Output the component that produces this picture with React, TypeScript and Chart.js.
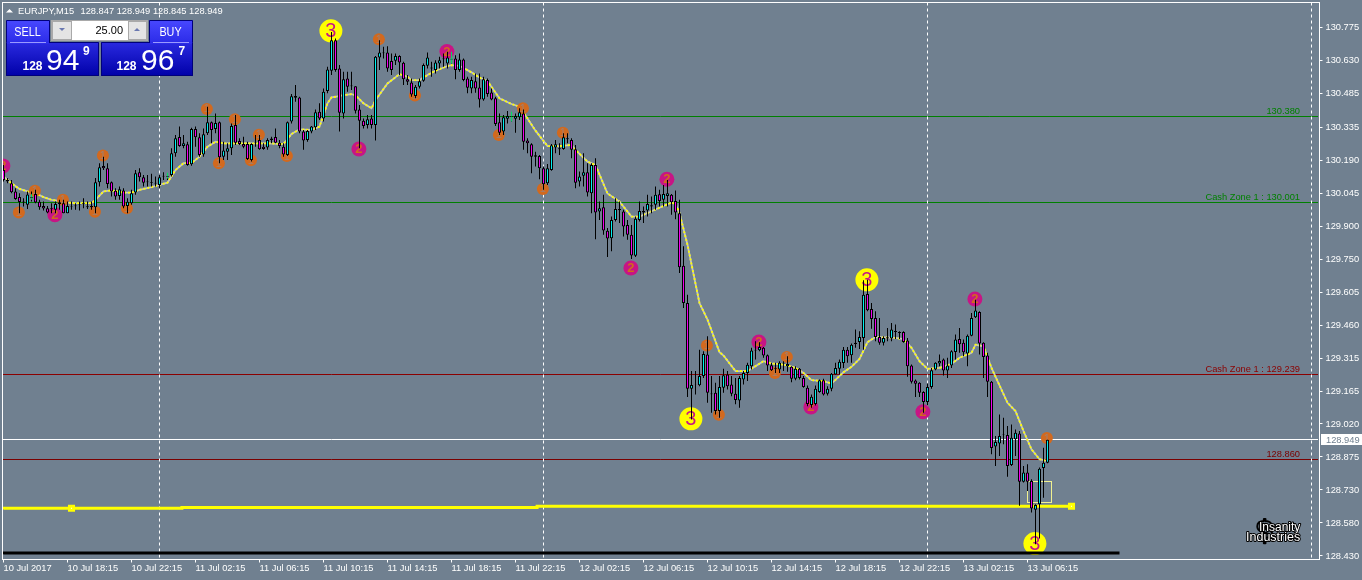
import React, { useEffect, useRef } from "react";
import { Chart, registerables } from "chart.js";

Chart.register(...registerables);

const opens = [
130.143,130.099,130.084,130.048,130.023,130.003,129.989,130.018,130.037,130.002,
129.984,129.974,129.970,129.967,129.993,129.996,129.952,129.981,129.983,129.990,
129.993,129.983,129.984,129.978,130.089,130.161,130.151,130.089,130.051,130.028,
130.052,129.984,129.996,130.043,130.133,130.111,130.092,130.090,130.087,130.077,
130.114,130.112,130.121,130.217,130.289,130.249,130.257,130.168,130.324,130.288,
130.212,130.305,130.354,130.324,130.354,130.202,130.224,130.239,130.342,130.271,
130.258,130.258,130.187,130.261,130.276,130.246,130.242,130.276,130.289,130.264,
130.246,130.209,130.357,130.470,130.464,130.313,130.276,130.313,130.332,130.401,
130.371,130.492,130.582,130.717,130.592,130.393,130.548,130.514,130.514,130.411,
130.361,130.342,130.371,130.342,130.641,130.663,130.663,130.625,130.626,130.647,
130.617,130.544,130.530,130.470,130.511,130.538,130.604,130.597,130.585,130.614,
130.636,130.614,130.632,130.636,130.585,130.632,130.548,130.504,130.536,130.508,
130.455,130.541,130.486,130.460,130.354,130.313,130.370,130.379,130.370,130.376,
130.393,130.273,130.257,130.208,130.205,130.151,130.084,130.143,130.243,130.239,
130.236,130.283,130.276,130.235,130.092,130.117,130.133,130.040,130.165,129.959,
129.978,129.874,129.841,129.922,129.970,129.959,129.900,129.856,129.763,129.922,
129.955,129.964,129.981,129.989,130.036,130.011,130.028,130.033,130.006,129.952,
129.719,129.554,129.175,129.196,129.191,129.231,129.326,129.154,129.157,129.076,
129.179,129.238,129.194,129.153,129.123,129.216,129.245,129.275,129.348,129.345,
129.356,129.323,129.279,129.267,129.260,129.290,129.275,129.272,129.219,129.263,
129.223,129.179,129.103,129.108,129.161,129.213,129.153,129.175,129.238,129.264,
129.289,129.348,129.323,129.378,129.382,129.400,129.594,129.528,129.488,129.404,
129.378,129.397,129.397,129.431,129.426,129.426,129.388,129.278,129.212,129.201,
129.161,129.116,129.183,129.260,129.287,129.304,129.256,129.278,129.338,129.395,
129.378,129.331,129.410,129.491,129.515,129.378,129.322,129.206,128.919,128.933,
128.973,128.970,128.838,128.951,128.977,128.763,128.804,128.767,128.639,128.664,
128.824,128.847];

const closes = [
130.099,130.092,130.045,130.015,130.001,129.999,130.034,130.022,129.999,129.978,
129.973,129.955,129.974,129.993,130.000,129.952,129.984,129.984,129.986,129.993,
129.996,129.978,129.978,130.089,130.155,130.151,130.081,130.048,130.026,130.058,
129.981,130.002,130.040,130.129,130.111,130.087,130.089,130.087,130.083,130.111,
130.118,130.115,130.217,130.283,130.249,130.261,130.165,130.324,130.288,130.209,
130.301,130.354,130.320,130.351,130.199,130.229,130.239,130.338,130.264,130.258,
130.246,130.192,130.258,130.265,130.235,130.236,130.276,130.282,130.264,130.249,
130.212,130.354,130.469,130.463,130.313,130.273,130.316,130.335,130.398,130.371,
130.489,130.588,130.717,130.585,130.396,130.544,130.511,130.517,130.405,130.361,
130.338,130.367,130.342,130.644,130.663,130.660,130.592,130.585,130.647,130.619,
130.544,130.533,130.477,130.511,130.536,130.607,130.641,130.592,130.619,130.629,
130.633,130.641,130.635,130.585,130.632,130.541,130.507,130.541,130.504,130.455,
130.544,130.479,130.455,130.346,130.308,130.376,130.382,130.382,130.382,130.398,
130.268,130.261,130.202,130.202,130.151,130.080,130.151,130.252,130.257,130.235,
130.288,130.279,130.232,130.087,130.114,130.133,130.043,130.165,129.955,129.974,
129.875,129.840,129.922,129.970,129.965,129.893,129.856,129.765,129.927,129.962,
129.962,129.993,129.987,130.033,130.006,130.037,130.040,130.000,129.955,129.713,
129.554,129.175,129.192,129.195,129.231,129.329,129.157,129.151,129.076,129.183,
129.235,129.186,129.153,129.125,129.223,129.245,129.281,129.344,129.344,129.360,
129.322,129.278,129.257,129.263,129.290,129.287,129.285,129.219,129.263,129.223,
129.183,129.108,129.140,129.175,129.213,129.150,129.175,129.241,129.267,129.294,
129.348,129.319,129.370,129.373,129.404,129.591,129.522,129.484,129.404,129.378,
129.400,129.403,129.437,129.426,129.422,129.382,129.275,129.206,129.197,129.157,
129.116,129.183,129.257,129.290,129.298,129.256,129.278,129.341,129.393,129.372,
129.337,129.410,129.488,129.521,129.375,129.316,129.206,128.913,128.939,128.966,
128.970,128.833,128.958,128.980,128.763,128.804,128.763,128.645,128.661,128.821,
128.848,128.949];

const highs = [
130.165,130.107,130.099,130.062,130.040,130.018,130.048,130.048,130.055,130.011,
130.003,129.984,129.996,130.003,130.011,130.011,130.003,130.003,129.996,130.003,
130.018,130.003,130.003,130.107,130.173,130.202,130.173,130.092,130.062,130.070,
130.062,130.018,130.055,130.143,130.151,130.121,130.121,130.126,130.114,130.121,
130.133,130.129,130.239,130.298,130.335,130.298,130.268,130.330,130.335,130.305,
130.327,130.423,130.357,130.393,130.357,130.268,130.261,130.349,130.386,130.283,
130.290,130.268,130.261,130.298,130.298,130.261,130.283,130.290,130.327,130.276,
130.261,130.357,130.479,130.519,130.467,130.320,130.320,130.338,130.411,130.438,
130.504,130.600,130.754,130.725,130.607,130.578,130.578,130.578,130.514,130.430,
130.371,130.386,130.386,130.647,130.717,130.688,130.691,130.658,130.658,130.651,
130.622,130.563,130.548,130.519,130.548,130.614,130.663,130.622,130.629,130.644,
130.658,130.666,130.641,130.651,130.658,130.636,130.555,130.555,130.570,130.570,
130.555,130.548,130.504,130.467,130.393,130.386,130.404,130.386,130.393,130.416,
130.411,130.283,130.261,130.224,130.209,130.158,130.170,130.258,130.276,130.261,
130.305,130.305,130.283,130.254,130.136,130.217,130.173,130.173,130.195,130.003,
130.033,129.886,129.937,130.018,130.003,129.967,129.922,129.900,129.937,130.003,
129.981,130.033,130.026,130.070,130.055,130.077,130.099,130.037,130.052,130.011,
129.805,129.591,129.253,129.253,129.348,129.341,129.407,129.231,129.201,129.231,
129.263,129.253,129.231,129.223,129.231,129.253,129.290,129.356,129.385,129.381,
129.360,129.326,129.290,129.290,129.297,129.297,129.319,129.275,129.275,129.267,
129.231,129.189,129.150,129.189,129.216,129.219,129.186,129.245,129.290,129.304,
129.360,129.360,129.375,129.437,129.429,129.655,129.657,129.554,129.518,129.488,
129.407,129.444,129.466,129.459,129.429,129.429,129.400,129.282,129.216,129.204,
129.164,129.198,129.267,129.292,129.326,129.309,129.312,129.345,129.415,129.444,
129.393,129.415,129.510,129.569,129.518,129.381,129.334,129.209,128.966,129.061,
129.047,129.010,129.017,128.995,128.988,128.833,128.841,128.774,128.664,128.826,
128.914,128.949];

const lows = [
130.092,130.084,130.040,130.011,129.952,129.981,129.970,130.003,129.996,129.967,
129.964,129.952,129.952,129.952,129.967,129.952,129.952,129.967,129.967,129.964,
129.974,129.970,129.967,129.952,130.070,130.143,130.062,130.026,130.011,130.011,
129.974,129.952,129.989,130.033,130.092,130.070,130.070,130.070,130.070,130.062,
130.099,130.099,130.114,130.202,130.246,130.239,130.162,130.162,130.246,130.202,
130.202,130.298,130.261,130.305,130.173,130.187,130.187,130.209,130.254,130.254,
130.239,130.187,130.180,130.246,130.232,130.232,130.232,130.261,130.261,130.239,
130.202,130.205,130.349,130.445,130.305,130.232,130.268,130.305,130.320,130.364,
130.357,130.482,130.563,130.578,130.313,130.371,130.489,130.497,130.393,130.239,
130.327,130.327,130.327,130.273,130.585,130.636,130.578,130.563,130.607,130.563,
130.519,130.519,130.467,130.460,130.504,130.533,130.592,130.555,130.570,130.592,
130.600,130.592,130.614,130.544,130.578,130.536,130.482,130.482,130.485,130.419,
130.449,130.467,130.452,130.338,130.298,130.298,130.349,130.357,130.308,130.364,
130.232,130.217,130.129,130.158,130.102,130.055,130.077,130.140,130.217,130.209,
130.232,130.261,130.195,130.062,130.070,130.070,130.026,129.952,129.837,129.922,
129.856,129.758,129.783,129.915,129.908,129.849,129.834,129.749,129.758,129.915,
129.908,129.937,129.952,129.967,129.981,129.981,129.981,129.945,129.925,129.687,
129.532,129.138,129.039,129.150,129.186,129.223,129.113,129.069,129.061,129.047,
129.157,129.172,129.142,129.106,129.091,129.194,129.209,129.260,129.304,129.341,
129.312,129.253,129.253,129.245,129.245,129.253,129.250,129.204,129.213,129.216,
129.179,129.098,129.091,129.101,129.157,129.145,129.145,129.164,129.238,129.238,
129.267,129.290,129.290,129.356,129.351,129.348,129.518,129.440,129.385,129.370,
129.366,129.385,129.385,129.395,129.395,129.378,129.228,129.198,129.138,129.139,
129.069,129.101,129.175,129.257,129.275,129.234,129.223,129.267,129.304,129.334,
129.319,129.275,129.407,129.488,129.326,129.223,129.138,128.885,128.833,128.877,
128.929,128.786,128.833,128.877,128.657,128.760,128.723,128.627,128.487,128.512,
128.693,128.845];

const maIndex = [0,2,4,6,8,10,12,14,16,18,22,23,25,27,30,32,34,37,39,41,43,45,47,49,51,53,55,58,62,66,70,72,74,77,79,81,82,83,85,87,88,90,92,93,96,99,101,102,104,106,108,111,112,114,117,119,121,124,127,129,131,133,136,139,142,143,146,148,151,154,157,159,163,167,168,169,171,174,176,179,180,183,186,190,192,195,196,198,200,202,205,207,210,212,214,216,218,223,225,227,229,231,234,237,239,242,243,245,247,251,253,255,257,259,261];
const maValues = [130.114,130.084,130.059,130.048,130.040,130.023,130.011,130.006,129.999,129.996,129.996,130.011,130.048,130.053,130.043,130.043,130.055,130.067,130.077,130.087,130.143,130.173,130.173,130.202,130.246,130.268,130.261,130.261,130.261,130.261,130.258,130.302,130.323,130.320,130.335,130.438,130.464,130.467,130.474,130.479,130.474,130.438,130.416,130.452,130.526,130.567,130.555,130.541,130.541,130.563,130.582,130.603,130.607,130.604,130.575,130.552,130.536,130.460,130.435,130.423,130.371,130.317,130.249,130.249,130.254,130.232,130.180,130.165,130.039,130.003,129.937,129.937,129.968,129.999,129.993,129.952,129.812,129.554,129.481,129.337,129.322,129.253,129.253,129.297,129.287,129.282,129.278,129.267,129.245,129.213,129.209,129.198,129.248,129.272,129.307,129.381,129.404,129.400,129.395,129.356,129.297,129.263,129.267,129.285,129.312,129.334,129.370,129.363,129.267,129.113,129.076,128.988,128.907,128.863,128.855];

const orangeIndex = [4,8,15,23,25,31,51,54,58,62,64,71,94,103,124,130,135,140,176,179,193,196,261];
const orangePrices = [129.955,130.051,130.011,129.958,130.207,129.974,130.413,130.173,130.368,130.186,130.299,130.205,130.722,130.473,130.298,130.416,130.059,130.308,129.366,129.060,129.245,129.316,128.957];
const pinkIndex = [0,13,89,111,157,166,189,202,230,243];
const pinkPrices = [130.161,129.945,130.236,130.667,129.709,130.102,129.382,129.094,129.073,129.572];
const yellowIndex = [82,172,216,258];
const yellowPrices = [130.759,129.042,129.657,128.490];

const arrowIndex = [7,41,112,127];
const arrowTop = [130.036,130.131,130.666,130.401];
const arrowBottom = [130.011,130.105,130.614,130.357];

const levelIndex = [0,44.6,133.4,222.1,267];
const levelPrices = [128.6415,128.646,128.650,128.655,128.655];
const levelSquareIndex = [17,267];
const levelSquarePrices = [128.646,128.655];
const floorIndex = [0,139.6,279];
const floorPrices = [128.4424,128.448,128.448];
const boxIndex = [256,262];
const boxPrices = [128.671,128.764];

const separatorIndex = [39,135,231,327];
const hLinePrices = [130.38,130.001,129.239,128.949,128.86];
const hLineLabels = ["130.380","Cash Zone 1 : 130.001","Cash Zone 1 : 129.239","","128.860"];
const hLineColors = ["#008000","#008000","#8b0000","#ffffff","#7a0000"];

const xTickIndex = [0,16,32,48,64,80,96,112,128,144,160,176,192,208,224,240,256];
const xTickLabels = ["10 Jul 2017","10 Jul 18:15","10 Jul 22:15","11 Jul 02:15","11 Jul 06:15","11 Jul 10:15","11 Jul 14:15","11 Jul 18:15","11 Jul 22:15","12 Jul 02:15","12 Jul 06:15","12 Jul 10:15","12 Jul 14:15","12 Jul 18:15","12 Jul 22:15","13 Jul 02:15","13 Jul 06:15"];
const yTickValues = [130.773,130.627,130.481,130.333,130.187,130.041,129.895,129.749,129.603,129.457,129.311,129.165,129.019,128.873,128.727,128.581,128.435];
const yTickLabels = ["130.775","130.630","130.485","130.335","130.190","130.045","129.900","129.750","129.605","129.460","129.315","129.165","129.020","128.875","128.730","128.580","128.430"];

const lastPrice = 128.949;
const lastPriceLabel = "128.949";

const BG = "#708090";
const FONT = "'Liberation Sans', Arial, sans-serif";

const zip = (xs: number[], ys: number[]) => xs.map((x, i) => ({ x, y: ys[i] }));
const markerZip = (xs: number[], ys: number[]) => xs.map((x, i) => ({ x: x - 0.15, y: ys[i] }));

function panelBox(ctx: CanvasRenderingContext2D, x: number, y: number, w: number, h: number, c1: string, c2: string) {
  const g = ctx.createLinearGradient(0, y, 0, y + h);
  g.addColorStop(0, c1);
  g.addColorStop(1, c2);
  ctx.fillStyle = g;
  ctx.fillRect(x, y, w, h);
  ctx.strokeStyle = "#00007a";
  ctx.lineWidth = 1;
  ctx.strokeRect(x + 0.5, y + 0.5, w - 1, h - 1);
}

function narrowText(ctx: CanvasRenderingContext2D, text: string, cx: number, y: number) {
  ctx.save();
  ctx.translate(cx, y);
  ctx.scale(0.8, 1);
  ctx.textAlign = "center";
  ctx.fillText(text, 0, 0);
  ctx.restore();
}

function drawPanel(ctx: CanvasRenderingContext2D) {
  ctx.save();
  ctx.textBaseline = "alphabetic";
  ctx.textAlign = "left";
  // header
  ctx.fillStyle = "#ffffff";
  ctx.beginPath();
  ctx.moveTo(6, 12.5);
  ctx.lineTo(9.5, 9);
  ctx.lineTo(13, 12.5);
  ctx.closePath();
  ctx.fill();
  ctx.font = `9.3px ${FONT}`;
  ctx.fillText("EURJPY,M15", 18, 14);
  ctx.fillText("128.847 128.949 128.845 128.949", 80.5, 14);
  // tabs
  panelBox(ctx, 6, 20, 44, 23, "#4848ff", "#2c2ce8");
  panelBox(ctx, 149, 20, 44, 23, "#4848ff", "#2c2ce8");
  panelBox(ctx, 6, 42, 93, 34, "#2a2ae0", "#0000a8");
  panelBox(ctx, 101, 42, 92, 34, "#2a2ae0", "#0000a8");
  ctx.fillStyle = "#2c2ce8";
  ctx.fillRect(7, 41, 42, 3);
  ctx.fillRect(150, 41, 42, 3);
  ctx.fillStyle = "#9a9aff";
  ctx.fillRect(10, 42, 36, 1);
  ctx.fillRect(153, 42, 36, 1);
  // spinner
  ctx.fillStyle = "#a9a9a9";
  ctx.fillRect(51, 20, 97, 21);
  ctx.fillStyle = "#e4e4e4";
  ctx.fillRect(53, 22, 18, 17);
  ctx.fillRect(129, 22, 17, 17);
  ctx.fillStyle = "#ffffff";
  ctx.fillRect(72, 21, 56, 19);
  ctx.fillStyle = "#6a78b0";
  ctx.beginPath();
  ctx.moveTo(59, 28);
  ctx.lineTo(65, 28);
  ctx.lineTo(62, 31);
  ctx.closePath();
  ctx.fill();
  ctx.beginPath();
  ctx.moveTo(134, 31);
  ctx.lineTo(140, 31);
  ctx.lineTo(137, 28);
  ctx.closePath();
  ctx.fill();
  ctx.fillStyle = "#000000";
  ctx.font = `11px ${FONT}`;
  ctx.textAlign = "right";
  ctx.fillText("25.00", 123, 34);
  ctx.fillStyle = "#ffffff";
  ctx.font = `13.5px ${FONT}`;
  narrowText(ctx, "SELL", 27.5, 35.5);
  narrowText(ctx, "BUY", 170.5, 35.5);
  ctx.textAlign = "left";
  ctx.font = `bold 12px ${FONT}`;
  ctx.fillText("128", 22.5, 70);
  ctx.fillText("128", 116.5, 70);
  ctx.fillText("9", 83, 55);
  ctx.fillText("7", 178.5, 55);
  ctx.font = `30px ${FONT}`;
  ctx.fillText("94", 46, 70);
  ctx.fillText("96", 141, 70);
  ctx.restore();
}

const marksPlugin = {
  id: "marks",
  beforeDraw(chart: any) {
    const { ctx, width, height } = chart;
    ctx.save();
    ctx.fillStyle = BG;
    ctx.fillRect(0, 0, width, height);
    ctx.restore();
  },
  beforeDatasetsDraw(chart: any) {
    const { ctx, chartArea, scales } = chart;
    ctx.save();
    // horizontal levels
    hLinePrices.forEach((p, i) => {
      const y = Math.floor(scales.y.getPixelForValue(p)) + 0.5;
      ctx.strokeStyle = hLineColors[i];
      ctx.lineWidth = 1;
      ctx.beginPath();
      ctx.moveTo(chartArea.left, y);
      ctx.lineTo(1318, y);
      ctx.stroke();
      if (hLineLabels[i]) {
        ctx.fillStyle = hLineColors[i];
        ctx.font = `9.3px ${FONT}`;
        ctx.textAlign = "right";
        ctx.textBaseline = "alphabetic";
        ctx.fillText(hLineLabels[i], 1300, y - 2.5);
      }
    });
    // day separators
    ctx.strokeStyle = "#ffffff";
    ctx.setLineDash([3, 3]);
    separatorIndex.forEach((ix) => {
      const x = Math.floor(scales.x.getPixelForValue(ix));
      ctx.beginPath();
      ctx.moveTo(x + 0.5, chartArea.top);
      ctx.lineTo(x + 0.5, chartArea.bottom);
      ctx.stroke();
    });
    ctx.setLineDash([]);
    // box
    const bx0 = scales.x.getPixelForValue(boxIndex[0]);
    const bx1 = scales.x.getPixelForValue(boxIndex[1]);
    const by0 = scales.y.getPixelForValue(boxPrices[1]);
    const by1 = scales.y.getPixelForValue(boxPrices[0]);
    ctx.strokeStyle = "#f0f090";
    ctx.strokeRect(Math.floor(bx0) + 0.5, Math.floor(by0) + 0.5, Math.round(bx1 - bx0), Math.round(by1 - by0));
    ctx.restore();
  },
  afterDatasetDraw(chart: any, args: any) {
    const ds = chart.data.datasets[args.index];
    if (!ds.digit) return;
    const { ctx, chartArea } = chart;
    ctx.save();
    ctx.beginPath();
    ctx.rect(chartArea.left, chartArea.top, chartArea.width, chartArea.height);
    ctx.clip();
    ctx.fillStyle = ds.digitColor;
    ctx.font = ds.digitFont;
    ctx.textAlign = "center";
    ctx.textBaseline = "middle";
    args.meta.data.forEach((el: any) => ctx.fillText(ds.digit, el.x, el.y + 0.5));
    ctx.restore();
  },
  afterDraw(chart: any) {
    const { ctx, chartArea, scales } = chart;
    ctx.save();
    // frame
    ctx.strokeStyle = "#ffffff";
    ctx.lineWidth = 1;
    ctx.strokeRect(chartArea.left, chartArea.top, chartArea.width, chartArea.height);
    // last price tag
    const ly = Math.floor(scales.y.getPixelForValue(lastPrice)) + 0.5;
    ctx.fillStyle = "#ffffff";
    ctx.fillRect(1321, ly - 5.5, 41, 11);
    ctx.fillStyle = BG;
    ctx.font = `9.3px ${FONT}`;
    ctx.textAlign = "left";
    ctx.textBaseline = "middle";
    ctx.fillText(lastPriceLabel, 1326, ly + 0.5);
    // watermark
    ctx.textBaseline = "alphabetic";
    ctx.lineJoin = "round";
    ctx.font = `bold 30px ${FONT}`;
    ctx.textAlign = "center";
    ctx.strokeStyle = "#000000";
    ctx.lineWidth = 2;
    ctx.strokeText("$", 1264.5, 541);
    ctx.font = `12px ${FONT}`;
    ctx.textAlign = "left";
    ctx.lineWidth = 2;
    ctx.fillStyle = "#ffffff";
    ctx.strokeText("Insanity", 1259, 531);
    ctx.fillText("Insanity", 1259, 531);
    ctx.font = `12.5px ${FONT}`;
    ctx.strokeText("Industries", 1246, 541);
    ctx.fillText("Industries", 1246, 541);
    drawPanel(ctx);
    ctx.restore();
  },
};

export default function App() {
  const ref = useRef<HTMLCanvasElement | null>(null);

  useEffect(() => {
    document.body.style.margin = "0";
    document.body.style.background = BG;
    const canvas = ref.current;
    if (!canvas) return;
    const barCommon = { type: "bar", grouped: false, inflateAmount: 0, borderSkipped: false };
    const lineCommon = { type: "line", pointRadius: 0, tension: 0, fill: false, borderCapStyle: "butt" };
    const markerCommon = { type: "line", showLine: false, pointBorderWidth: 0, pointHoverRadius: 0 };
    const chart = new Chart(canvas, {
      type: "bar",
      plugins: [marksPlugin],
      data: {
        datasets: [
          { ...barCommon, label: "bodies", order: 2, barThickness: 3, borderWidth: 1, borderColor: "#000000",
            backgroundColor: opens.map((o, i) => (closes[i] >= o ? "#00f0f0" : "#f000f0")),
            data: opens.map((o, i) => ({ x: i, y: [o, closes[i]] })) },
          { ...barCommon, label: "wicks", order: 3, barThickness: 1, borderWidth: 0, backgroundColor: "#000000",
            data: highs.map((h, i) => ({ x: i, y: [lows[i], h] })) },
          { ...barCommon, label: "arrows", order: 2.5, barThickness: 1, borderWidth: 0, backgroundColor: "#00e060",
            data: arrowIndex.map((ix, i) => ({ x: ix, y: [arrowBottom[i], arrowTop[i]] })) },
          { ...markerCommon, label: "wave 1", order: 4, pointRadius: 6, pointBackgroundColor: "#d2691e",
            digit: "1", digitColor: "#a08070", digitFont: `11px ${FONT}`, data: markerZip(orangeIndex, orangePrices) },
          { ...markerCommon, label: "wave 2", order: 4, pointRadius: 7.5, pointBackgroundColor: "#c71585",
            digit: "2", digitColor: "#d2691e", digitFont: `bold 13px ${FONT}`, data: markerZip(pinkIndex, pinkPrices) },
          { ...markerCommon, label: "wave 3", order: 4, pointRadius: 11.5, pointBackgroundColor: "#ffff00",
            digit: "3", digitColor: "#c71585", digitFont: `20px ${FONT}`, data: markerZip(yellowIndex, yellowPrices) },
          { ...lineCommon, label: "ma yellow", order: 5, borderColor: "#ffff00", borderWidth: 1.8, borderDash: [2, 2],
            data: zip(maIndex, maValues) },
          { ...lineCommon, label: "ma grey", order: 6, borderColor: "#c4c4c4", borderWidth: 1.8, data: zip(maIndex, maValues) },
          { ...lineCommon, label: "level", order: 7, borderColor: "#ffff00", borderWidth: 3, stepped: "after",
            data: zip(levelIndex, levelPrices) },
          { ...markerCommon, label: "level mark inner", order: 6.5, pointStyle: "rect", pointRadius: 0.8, pointBackgroundColor: "#ffffff",
            data: zip(levelSquareIndex, levelSquarePrices) },
          { ...markerCommon, label: "level mark", order: 6.6, pointStyle: "rect", pointRadius: 5, pointBackgroundColor: "#ffff00",
            data: zip(levelSquareIndex, levelSquarePrices) },
          { ...lineCommon, label: "floor", order: 1, borderColor: "#000000", borderWidth: 3, stepped: "after",
            data: zip(floorIndex, floorPrices) },
        ],
      } as any,
      options: {
        responsive: false,
        animation: false,
        devicePixelRatio: 1,
        layout: { autoPadding: false, padding: { left: 2.5, top: 2.5, right: 0, bottom: 0 } },
        plugins: { legend: { display: false }, tooltip: { enabled: false } },
        events: [],
        scales: {
          x: {
            type: "linear",
            offset: false,
            min: -0.25,
            max: 329,
            afterFit: (s: any) => { s.height = 20.5; s.paddingLeft = 0; s.paddingRight = 0; },
            afterBuildTicks: (s: any) => { s.ticks = xTickIndex.map((value) => ({ value })); },
            border: { display: false },
            grid: { drawOnChartArea: false, drawTicks: true, tickLength: 3, color: "#ffffff", offset: false },
            ticks: {
              autoSkip: false, maxRotation: 0, minRotation: 0, align: "start", padding: 0, color: "#ffffff",
              font: { family: FONT, size: 9.3 },
              callback: (_v: any, i: number) => xTickLabels[i],
            },
          },
          y: {
            type: "linear",
            position: "right",
            min: 128.4194,
            max: 130.8841,
            afterFit: (s: any) => { s.width = 42.5; s.paddingTop = 0; s.paddingBottom = 0; },
            afterBuildTicks: (s: any) => { s.ticks = yTickValues.map((value) => ({ value })); },
            border: { display: false },
            grid: { drawOnChartArea: false, drawTicks: true, tickLength: 3, color: "#ffffff" },
            ticks: {
              autoSkip: false, padding: 3, color: "#ffffff",
              font: { family: FONT, size: 9.3 },
              callback: (_v: any, i: number) => yTickLabels[i],
            },
          },
        },
      } as any,
    });
    return () => chart.destroy();
  }, []);

  return <canvas ref={ref} width={1362} height={580} style={{ display: "block", width: 1362, height: 580 }} />;
}
